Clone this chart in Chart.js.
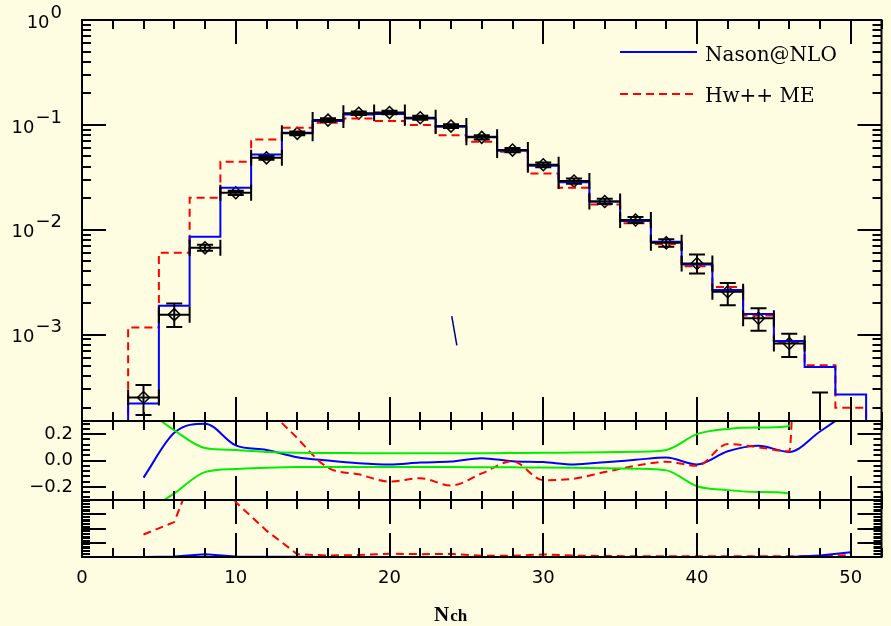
<!DOCTYPE html>
<html lang="en">
<head>
<meta charset="UTF-8">
<title>Nch distribution</title>
<script src="https://cdn.jsdelivr.net/npm/chart.js"></script>
<style>
  body { margin: 0; background: #fffde1; }
  #wrap { position: relative; width: 891px; height: 626px; }
  #wrap canvas { position: absolute; left: 0; top: 0; }
</style>
</head>
<body>
<div id="wrap">
  <canvas id="mainChart" width="891" height="626"></canvas>
  <canvas id="ratioChart" width="891" height="626"></canvas>
  <canvas id="chiChart" width="891" height="626"></canvas>
</div>
<script>
// histogram bins, width 2, edges 3..51
const binEdges = [3,5,7,9,11,13,15,17,19,21,23,25,27,29,31,33,35,37,39,41,43,45,47,49,51];
const nasonHist = [2.2e-4, 1.88e-3, 8.55e-3, 0.0251, 0.0523, 0.0841, 0.1087, 0.1259, 0.1268, 0.1152,
                   0.0959, 0.077, 0.0566, 0.0407, 0.0283, 0.0186, 0.0121, 0.00766, 0.00466, 0.00266,
                   0.00157, 8.7e-4, 4.92e-4, 2.68e-4];
const hwmeHist = [1.17e-3, 6.02e-3, 0.0202, 0.0445, 0.0727, 0.0938, 0.1047, 0.115, 0.109, 0.0996,
                  0.0794, 0.069, 0.0555, 0.0344, 0.0251, 0.0174, 0.0115, 0.0073, 0.00448, 0.00285,
                  0.00152, 8.5e-4, 5.1e-4, 2.01e-4];

// measured points
const dataX  = [4, 6, 8, 10, 12, 14, 16, 18, 20, 22, 24, 26, 28, 30, 32, 34, 36, 38, 40, 42, 44, 46, 48];
const dataY  = [2.51e-4, 1.55e-3, 6.72e-3, 0.0225, 0.0485, 0.083, 0.111, 0.129, 0.131, 0.117, 0.0974, 0.076,
                0.0575, 0.0416, 0.0291, 0.0186, 0.0124, 0.0075, 4.76e-3, 2.56e-3, 1.43e-3, 8.23e-4, 1.2e-4];
const dataHi = [3.3e-4, 1.98e-3, 7.2e-3, 0.0236, 0.0505, 0.0865, 0.1155, 0.134, 0.136, 0.122, 0.1015, 0.0795,
                0.0603, 0.0438, 0.0308, 0.0197, 0.0132, 0.0081, 5.81e-3, 3.11e-3, 1.78e-3, 1.02e-3, 2.8e-4];
const dataLo = [1.71e-4, 1.18e-3, 6.3e-3, 0.0214, 0.0466, 0.0797, 0.1067, 0.124, 0.126, 0.112, 0.0935, 0.0727,
                0.0548, 0.0395, 0.0275, 0.0176, 0.0116, 0.0069, 3.83e-3, 1.91e-3, 1.09e-3, 6.12e-4, 5e-5];

// stray segment in the upper panel
const strayX = [24.05, 24.38];
const strayY = [1.5e-3, 7.9e-4];

// ratio panel
const ratioX      = [4, 6, 8, 10, 12, 14, 16, 18, 20, 22, 24, 26, 28, 30, 32, 34, 36, 38, 40, 42, 44, 46, 48, 50];
const nasonRatio  = [-0.13, 0.21, 0.28, 0.115, 0.08, 0.025, 0.0, -0.02, -0.03, -0.015, -0.008, 0.018,
                     -0.005, -0.012, -0.03, -0.013, 0.005, 0.023, -0.03, 0.07, 0.112, 0.065, 0.22, 0.38];
const hwmeRatio   = [3.66, 2.88, 2.0, 0.98, 0.44, 0.17, -0.055, -0.105, -0.16, -0.135, -0.19, -0.098,
                     -0.005, -0.15, -0.138, -0.088, -0.04, -0.01, -0.04, 0.125, 0.10, 0.07, 20, null];
const bandX       = [4, 6, 8, 10, 12, 14, 16, 18, 20, 22, 24, 26, 28, 30, 32, 34, 36, 38, 40, 42, 44, 46, 48];
const bandHi      = [0.4, 0.23, 0.095, 0.08, 0.065, 0.058, 0.057, 0.056, 0.055, 0.055, 0.055, 0.056,
                     0.057, 0.058, 0.06, 0.062, 0.066, 0.08, 0.2, 0.24, 0.25, 0.26, 20];
const bandLo      = [-0.4, -0.25, -0.088, -0.065, -0.055, -0.05, -0.05, -0.05, -0.05, -0.05, -0.05, -0.051,
                     -0.052, -0.053, -0.055, -0.058, -0.062, -0.075, -0.195, -0.225, -0.24, -0.25, -20];

// bottom panel
const nasonChi = [0, 0.03, 0.2, 0.04, 0.02, 0.01, 0, 0, 0, 0, 0, 0, 0, 0, 0, 0, 0, 0, 0, 0, 0, 0, 0.1, 0.33];
const hwmeChi  = [1.58, 2.45, 8, 3.85, 1.85, 0.2, 0.1, 0.14, 0.23, 0.2, 0.22, 0.09, 0.08, 0.18, 0.1, 0.07,
                  0.05, 0.05, 0.05, 0.05, 0.05, 0.05, 0.08, 0.13];

// axis ticks / labels
const xLabelTicks = [0, 10, 20, 30, 40, 50];
const logTicks = [1, 0.1, 0.01, 0.001];
const logExps = ['0', '\u22121', '\u22122', '\u22123'];
const ratioTicks = [0.2, 0.0, -0.2];
const ratioLabels = ['0.2', '0.0', '\u22120.2'];

const BLUE = '#0000ff', RED = '#ff0000', GREEN = '#00ee00';
const histFloor = 1e-6;
const tickFont = '18px "DejaVu Sans"';

function histPoints(vals) {
  const pts = [{x: binEdges[0], y: histFloor}];
  vals.forEach((v, i) => {
    pts.push({x: binEdges[i], y: v});
    pts.push({x: binEdges[i + 1], y: v});
  });
  pts.push({x: binEdges[binEdges.length - 1], y: histFloor});
  return pts;
}
const zip = (xs, ys) => xs.map((x, i) => ({x: x, y: ys[i]}));

// frame + inward ticks for one panel
function framePlugin(cfg) {
  return {
    id: 'frame_' + cfg.name,
    afterDraw(chart) {
      const ctx = chart.ctx, a = chart.chartArea, xs = chart.scales.x, ys = chart.scales.y;
      ctx.save();
      ctx.strokeStyle = '#000';
      ctx.lineWidth = 2;
      ctx.strokeRect(a.left, a.top, a.right - a.left, a.bottom - a.top);
      ctx.beginPath();
      for (let v = 0; v <= 52; v += 2) {
        const px = Math.round(xs.getPixelForValue(v));
        const len = v % 10 === 0 ? 24 : 9;
        if (cfg.top === 'in') { ctx.moveTo(px, a.top); ctx.lineTo(px, a.top + len); }
        if (cfg.bottom === 'both') { ctx.moveTo(px, a.bottom - len); ctx.lineTo(px, a.bottom + len); }
        if (cfg.bottom === 'in') { ctx.moveTo(px, a.bottom - len); ctx.lineTo(px, a.bottom); }
      }
      const yTick = (v, len, off) => {
        const py = Math.round(ys.getPixelForValue(v)) + off;
        ctx.moveTo(a.left, py); ctx.lineTo(a.left + len, py);
        ctx.moveTo(a.right, py); ctx.lineTo(a.right - len, py);
      };
      cfg.yMajor.forEach(v => yTick(v, 24, 0));
      ctx.stroke();
      ctx.lineWidth = cfg.minorWidth;
      ctx.beginPath();
      cfg.yMinor.forEach(v => yTick(v, cfg.minorLen, cfg.minorWidth === 1 ? 0.5 : 0));
      ctx.stroke();
      if (cfg.labels) cfg.labels(chart);
      ctx.restore();
    }
  };
}

// error bars for the measured points
const errorBars = {
  id: 'errorBars',
  afterDatasetsDraw(chart) {
    const ctx = chart.ctx, a = chart.chartArea, xs = chart.scales.x, ys = chart.scales.y;
    ctx.save();
    ctx.beginPath();
    ctx.rect(a.left, a.top, a.right - a.left, a.bottom - a.top);
    ctx.clip();
    ctx.strokeStyle = '#000';
    ctx.lineWidth = 2;
    ctx.beginPath();
    dataX.forEach((xv, i) => {
      const px = xs.getPixelForValue(xv);
      const py = ys.getPixelForValue(dataY[i]);
      const xl = xs.getPixelForValue(xv - 1), xr = xs.getPixelForValue(xv + 1);
      const yh = ys.getPixelForValue(dataHi[i]), yl = ys.getPixelForValue(dataLo[i]);
      ctx.moveTo(xl, py); ctx.lineTo(xr, py);
      ctx.moveTo(xl, py - 8); ctx.lineTo(xl, py + 8);
      ctx.moveTo(xr, py - 8); ctx.lineTo(xr, py + 8);
      ctx.moveTo(px, yh); ctx.lineTo(px, yl);
      ctx.moveTo(px - 8, yh); ctx.lineTo(px + 8, yh);
      ctx.moveTo(px - 8, yl); ctx.lineTo(px + 8, yl);
    });
    ctx.stroke();
    ctx.restore();
  }
};

const logMinor = [];
for (let e = -4; e <= -1; e++) {
  for (let m = 2; m <= 9; m++) {
    const v = m * Math.pow(10, e);
    if (v >= 1.5e-4 && v < 1) logMinor.push(v);
  }
}
const ratioMinor = [];
for (let k = -7; k <= 7; k++) {
  if (k !== 0 && Math.abs(k) !== 5) ratioMinor.push(k * 0.04);
}
const chiMinor = [];
for (let k = 1; k < 40; k++) {
  if (k % 10 !== 0) chiMinor.push(k / 10);
}

function baseOptions(pad, yScale) {
  return {
    responsive: false,
    animation: false,
    events: [],
    layout: { padding: pad },
    scales: {
      x: { type: 'linear', min: 0, max: 52, display: false },
      y: Object.assign({ display: false }, yScale)
    },
    plugins: { legend: { display: false }, tooltip: { enabled: false } }
  };
}

// upper panel
new Chart(document.getElementById('mainChart'), {
  type: 'scatter',
  data: {
    datasets: [
      { data: histPoints(nasonHist), showLine: true, borderColor: BLUE, borderWidth: 2, pointRadius: 0, clip: 0 },
      { data: histPoints(hwmeHist), showLine: true, borderColor: RED, borderDash: [8, 5], borderWidth: 2, pointRadius: 0, clip: 0 },
      { data: zip(strayX, strayY), showLine: true, borderColor: '#000080', borderWidth: 1.5, pointRadius: 0, clip: 0 },
      { data: zip(dataX, dataY), pointStyle: 'rectRot', pointRadius: 6, borderColor: '#000', borderWidth: 1.5,
        backgroundColor: 'rgba(0,0,0,0)', clip: 0 }
    ]
  },
  options: baseOptions({ left: 82, right: 9.5, top: 20, bottom: 205 },
                       { type: 'logarithmic', min: 1.5e-4, max: 1 }),
  plugins: [errorBars, framePlugin({
    name: 'main', top: 'in', bottom: 'both', yMajor: logTicks, yMinor: logMinor, minorLen: 9, minorWidth: 2,
    labels(chart) {
      const ctx = chart.ctx, ys = chart.scales.y;
      ctx.fillStyle = '#000';
      ctx.font = tickFont;
      ctx.textBaseline = 'middle';
      logTicks.forEach((v, i) => {
        const py = ys.getPixelForValue(v);
        const ew = ctx.measureText(logExps[i]).width;
        ctx.textAlign = 'left';
        ctx.fillText(logExps[i], 62 - ew, py - 7);
        ctx.textAlign = 'right';
        ctx.fillText('10', 62 - ew - 1, py + 3);
      });
      // legend
      ctx.lineWidth = 2;
      ctx.strokeStyle = BLUE;
      ctx.beginPath(); ctx.moveTo(620, 52); ctx.lineTo(697, 52); ctx.stroke();
      ctx.strokeStyle = RED;
      ctx.setLineDash([8, 5]);
      ctx.beginPath(); ctx.moveTo(620, 94); ctx.lineTo(697, 94); ctx.stroke();
      ctx.setLineDash([]);
      ctx.font = '20px "DejaVu Serif"';
      ctx.textAlign = 'left';
      ctx.textBaseline = 'alphabetic';
      ctx.fillText('Nason@NLO', 705, 61);
      ctx.fillText('Hw++ ME', 705, 102);
    }
  })]
});

// ratio panel
new Chart(document.getElementById('ratioChart'), {
  type: 'scatter',
  data: {
    datasets: [
      { data: zip(bandX, bandHi), showLine: true, borderColor: GREEN, borderWidth: 2, pointRadius: 0,
        cubicInterpolationMode: 'monotone', clip: 0 },
      { data: zip(bandX, bandLo), showLine: true, borderColor: GREEN, borderWidth: 2, pointRadius: 0,
        cubicInterpolationMode: 'monotone', clip: 0 },
      { data: zip(ratioX, hwmeRatio), showLine: true, borderColor: RED, borderDash: [8, 5], borderWidth: 2,
        pointRadius: 0, cubicInterpolationMode: 'monotone', clip: 0 },
      { data: zip(ratioX, nasonRatio), showLine: true, borderColor: BLUE, borderWidth: 2, pointRadius: 0,
        cubicInterpolationMode: 'monotone', clip: 0 }
    ]
  },
  options: baseOptions({ left: 82, right: 9.5, top: 421, bottom: 126 },
                       { type: 'linear', min: -0.3, max: 0.3 }),
  plugins: [framePlugin({
    name: 'ratio', top: 'none', bottom: 'both', yMajor: ratioTicks, yMinor: ratioMinor, minorLen: 8, minorWidth: 2,
    labels(chart) {
      const ctx = chart.ctx, ys = chart.scales.y;
      ctx.fillStyle = '#000';
      ctx.font = tickFont;
      ctx.textAlign = 'right';
      ctx.textBaseline = 'middle';
      ratioTicks.forEach((v, i) => ctx.fillText(ratioLabels[i], 73, ys.getPixelForValue(v)));
    }
  })]
});

// bottom panel
new Chart(document.getElementById('chiChart'), {
  type: 'scatter',
  data: {
    datasets: [
      { data: zip(ratioX, nasonChi), showLine: true, borderColor: BLUE, borderWidth: 2, pointRadius: 0, clip: 0 },
      { data: zip(ratioX, hwmeChi), showLine: true, borderColor: RED, borderDash: [8, 5], borderWidth: 2,
        pointRadius: 0, clip: 0 }
    ]
  },
  options: baseOptions({ left: 82, right: 9.5, top: 500, bottom: 69 },
                       { type: 'linear', min: 0, max: 4 }),
  plugins: [framePlugin({
    name: 'chi', top: 'none', bottom: 'in', yMajor: [1, 2, 3], yMinor: chiMinor, minorLen: 8, minorWidth: 1,
    labels(chart) {
      const ctx = chart.ctx, xs = chart.scales.x;
      ctx.fillStyle = '#000';
      ctx.font = tickFont;
      ctx.textAlign = 'center';
      ctx.textBaseline = 'middle';
      xLabelTicks.forEach(v => ctx.fillText(String(v), xs.getPixelForValue(v), 578));
      ctx.textAlign = 'left';
      ctx.textBaseline = 'alphabetic';
      ctx.font = 'bold 21px "Liberation Serif"';
      ctx.fillText('N', 434, 621);
      const nw = ctx.measureText('N').width;
      ctx.font = 'bold 17px "Liberation Serif"';
      ctx.fillText('ch', 434 + nw + 1, 621);
    }
  })]
});
</script>
</body>
</html>
